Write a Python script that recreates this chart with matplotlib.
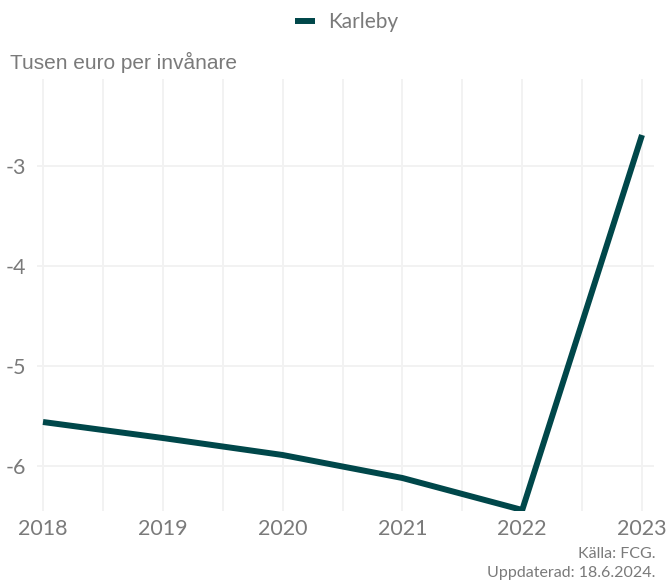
import matplotlib.pyplot as plt
import matplotlib.font_manager as fm
import numpy as np

# Karleby, årsbidrag (tusen euro per invånare)
years = [2018, 2019, 2020, 2021, 2022, 2023]
values = [-5.56, -5.72, -5.89, -6.12, -6.44, -2.69]
yticks = [-6, -5, -4, -3]
series_name = 'Karleby'

names = {f.name for f in fm.fontManager.ttflist}
light = 'Liberation Sans Narrow' if 'Liberation Sans Narrow' in names else 'Lato'

grey = '#7a7a7a'
line_col = '#00474a'
grid_col = '#f2f2f2'

fig = plt.figure(figsize=(6.66, 5.81), dpi=100)
ax = fig.add_axes([37 / 666, 1 - 511 / 581, (654 - 37) / 666, (511 - 79) / 581])

ax.plot(years, values, color=line_col, lw=4.3, solid_joinstyle='miter',
        solid_capstyle='butt', label=series_name, zorder=3)

ax.set_xlim(2017.95, 2023.1)
ax.set_ylim(-6.45, -2.13)
ax.set_xticks(years)
ax.set_xticks(np.arange(2018.5, 2023, 1), minor=True)
ax.set_yticks(yticks)
ax.set_yticklabels([str(v) for v in yticks])

ax.grid(True, which='both', axis='x', color=grid_col, lw=1.4)
ax.grid(True, which='major', axis='y', color=grid_col, lw=1.4)
ax.set_axisbelow(True)
for s in ax.spines.values():
    s.set_visible(False)
ax.tick_params(which='both', length=0)
ax.tick_params(axis='x', pad=6)
ax.tick_params(axis='y', pad=8)
for lab in ax.get_xticklabels() + ax.get_yticklabels():
    lab.set_fontfamily(light)
    lab.set_fontsize(15.5)
    lab.set_color(grey)

fig.text(10 / 666, 1 - 62 / 581, 'Tusen euro per invånare', fontsize=15,
         family='Liberation Sans', color=grey, va='center', ha='left')

leg = fig.legend(loc='center', bbox_to_anchor=(0.52, 1 - 22 / 581), frameon=False,
                 handlelength=1.0, handletextpad=0.6,
                 prop={'family': light, 'size': 15})
for t in leg.get_texts():
    t.set_color(grey)

fig.text(655 / 666, 1 - 554 / 581, 'Källa: FCG.', fontsize=11.5, family=light,
         color=grey, ha='right', va='center')
fig.text(655 / 666, 1 - 573 / 581, 'Uppdaterad: 18.6.2024.', fontsize=11.5,
         family=light, color=grey, ha='right', va='center')

fig.savefig('out.png', dpi=100)
